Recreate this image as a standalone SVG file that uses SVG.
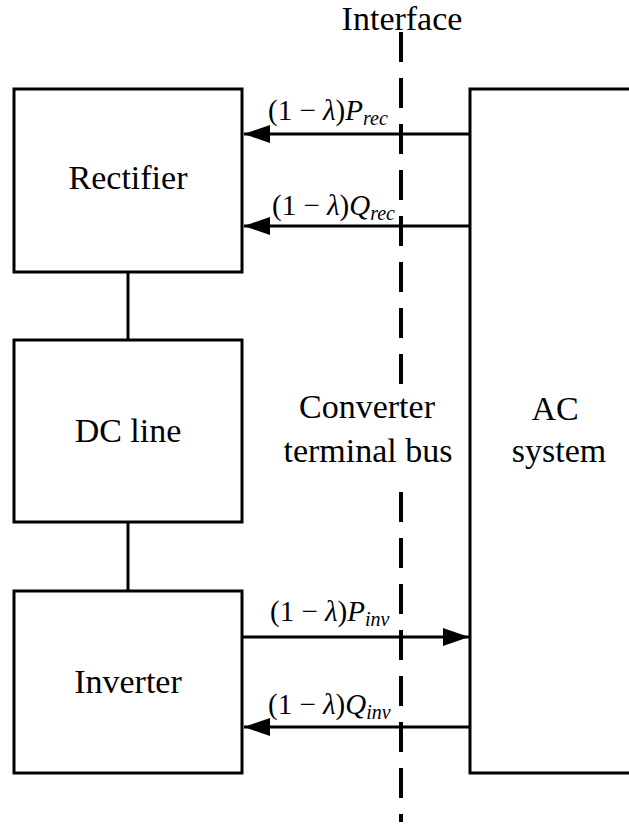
<svg xmlns="http://www.w3.org/2000/svg" width="629" height="825" viewBox="0 0 629 825">
<style>
.box{fill:#fff;stroke:#000;stroke-width:3}
.t{font-size:34px;fill:#000;text-anchor:middle}
.lab{font-size:29px;fill:#000}
.sub{font-size:20px;font-style:italic}
.ln{stroke:#000;stroke-width:3;fill:none}
</style>
<defs>
<marker id="ah" markerUnits="userSpaceOnUse" markerWidth="28" markerHeight="20" refX="26" refY="9" orient="auto">
<path d="M0,0 L26,9 L0,18 Z" fill="#000"/>
</marker>
</defs>
<rect width="629" height="825" fill="#fff"/>
<g id="interface" font-family="Liberation Serif, serif">
<line x1="401" y1="32" x2="401" y2="822" stroke="#000" stroke-width="4" stroke-dasharray="30 16"/>
<text class="t" x="402" y="30">Interface</text>
<rect x="280" y="386" width="176" height="91" fill="#fff"/>
<text class="t" x="367" y="418">Converter</text>
<text class="t" x="368" y="462">terminal bus</text>
</g>
<g id="rectifier" font-family="Liberation Serif, serif">
<rect class="box" x="14" y="89" width="228" height="183"/>
<text class="t" x="128" y="189">Rectifier</text>
</g>
<g id="dcline" font-family="Liberation Serif, serif">
<rect class="box" x="14" y="340" width="228" height="182"/>
<text class="t" x="128" y="442">DC line</text>
</g>
<g id="inverter" font-family="Liberation Serif, serif">
<rect class="box" x="14" y="591" width="228" height="182"/>
<text class="t" x="128" y="693">Inverter</text>
</g>
<g id="acsystem" font-family="Liberation Serif, serif">
<path class="ln" d="M640,89 H470 V773 H640"/>
<text class="t" x="555" y="420">AC</text>
<text class="t" x="559" y="462">system</text>
</g>
<g id="connectors">
<line class="ln" x1="128" y1="272" x2="128" y2="340"/>
<line class="ln" x1="128" y1="522" x2="128" y2="591"/>
<line class="ln" x1="470" y1="134" x2="244" y2="134" marker-end="url(#ah)"/>
<line class="ln" x1="470" y1="226" x2="244" y2="226" marker-end="url(#ah)"/>
<line class="ln" x1="243" y1="637" x2="469" y2="637" marker-end="url(#ah)"/>
<line class="ln" x1="470" y1="727" x2="244" y2="727" marker-end="url(#ah)"/>
</g>
<g id="labels" font-family="Liberation Serif, serif">
<text class="lab" x="268" y="120">(1 − <tspan font-style="italic">λ</tspan>)<tspan font-style="italic">P</tspan><tspan class="sub" dy="5">rec</tspan></text>
<text class="lab" x="272" y="215">(1 − <tspan font-style="italic">λ</tspan>)<tspan font-style="italic">Q</tspan><tspan class="sub" dy="5">rec</tspan></text>
<text class="lab" x="270" y="621">(1 − <tspan font-style="italic">λ</tspan>)<tspan font-style="italic">P</tspan><tspan class="sub" dy="5">inv</tspan></text>
<text class="lab" x="268" y="714">(1 − <tspan font-style="italic">λ</tspan>)<tspan font-style="italic">Q</tspan><tspan class="sub" dy="5">inv</tspan></text>
</g>
</svg>
